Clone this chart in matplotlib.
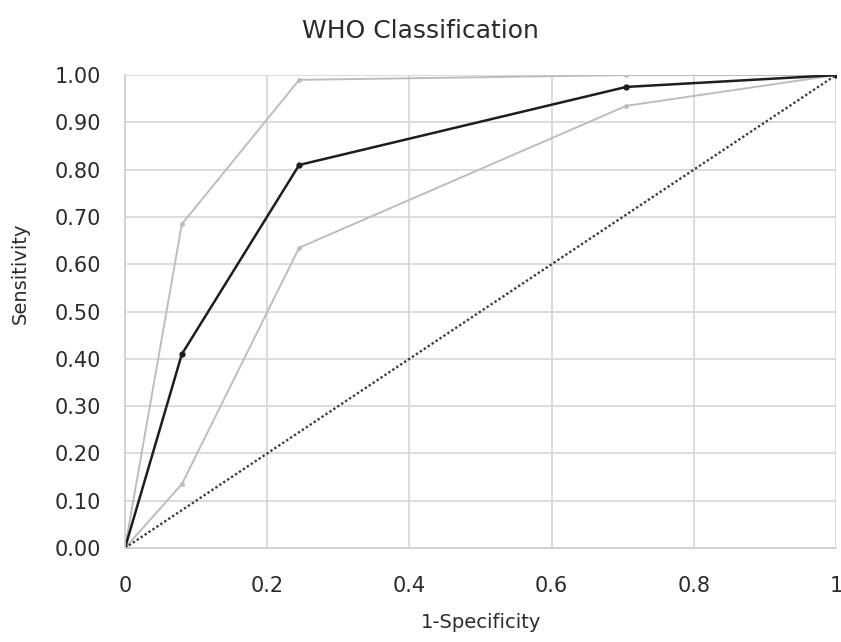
import matplotlib
matplotlib.use('Agg')
import matplotlib.pyplot as plt

# ROC 数据
fpr = [0, 0.08, 0.245, 0.705, 1]
sens_main = [0, 0.41, 0.81, 0.975, 1]
sens_upper = [0, 0.685, 0.99, 1.0, 1]
sens_lower = [0, 0.135, 0.635, 0.935, 1]
ref_x = [0, 1]
ref_y = [0, 1]

plt.rcParams['font.family'] = ['DejaVu Sans']
txt = '#2b2b2b'

fig = plt.figure(figsize=(8.41, 6.42), dpi=100)
ax = fig.add_axes([0.1486, 0.1464, 0.8454, 0.7366])

ax.plot(fpr, sens_upper, color='#bdbdbd', lw=1.4, marker='o', ms=2.5)
ax.plot(fpr, sens_lower, color='#bdbdbd', lw=1.4, marker='o', ms=2.5)
ax.plot(fpr, sens_main, color='#1e1e1e', lw=1.8, marker='o', ms=3.5)
ax.plot(ref_x, ref_y, color='#3c3c3c', lw=1.7, ls=(0, (1, 1)))

ax.set_xlim(0, 1)
ax.set_ylim(0, 1)
ax.set_xticks([0, 0.2, 0.4, 0.6, 0.8, 1])
ax.set_xticklabels(['0', '0.2', '0.4', '0.6', '0.8', '1'])
ax.set_yticks([i / 10 for i in range(11)])
ax.set_yticklabels([f'{i / 10:.2f}' for i in range(11)])
ax.tick_params(axis='y', length=0, labelsize=15, colors=txt, pad=17)
ax.tick_params(axis='x', length=0, labelsize=15, colors=txt, pad=20)
ax.grid(True, color='#d9d9d9', lw=1.3)
ax.set_axisbelow(True)
for s in ['top', 'right']:
    ax.spines[s].set_visible(False)
for s in ['left', 'bottom']:
    ax.spines[s].set_color('#d0d0d0')
    ax.spines[s].set_linewidth(1.3)

fig.text(0.5, 0.952, 'WHO Classification', ha='center', va='center', fontsize=18, color=txt)
fig.text(0.572, 0.031, '1-Specificity', ha='center', va='center', fontsize=14, color=txt)
fig.text(0.024, 0.575, 'Sensitivity', ha='center', va='center', rotation=90, fontsize=14, color=txt)

fig.savefig('out.png', dpi=100)
